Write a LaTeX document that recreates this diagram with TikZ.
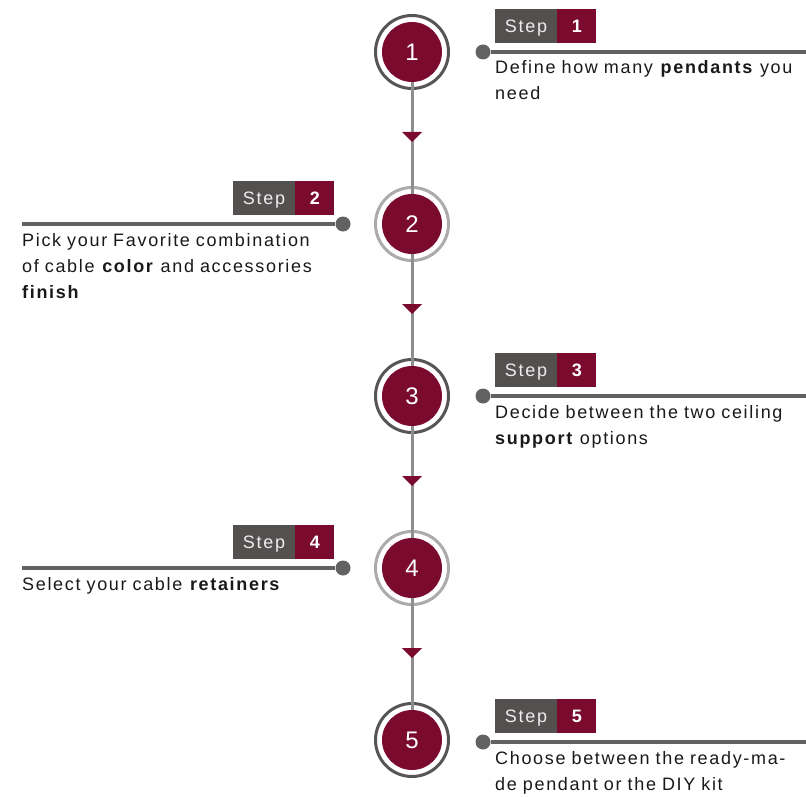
\documentclass[tikz,border=0pt]{standalone}
\usepackage{fontspec}
\setmainfont{Liberation Sans}[LetterSpace=9.3]
\usetikzlibrary{decorations.markings}
\definecolor{maroon}{HTML}{7A0A2E}
\definecolor{boxgray}{HTML}{545050}
\definecolor{linegray}{HTML}{626262}
\definecolor{ringdark}{HTML}{555555}
\definecolor{ringlight}{HTML}{ABABAB}
\definecolor{vgray}{HTML}{8E8E8E}
\tikzset{
  ring/.style={circle, draw=#1, line width=3pt, minimum size=73pt, inner sep=0pt},
  disc/.style={circle, fill=maroon, minimum size=60pt, inner sep=0pt, text=white, font=\fontsize{24}{24}\selectfont},
  vline/.style={draw=vgray, line width=3pt, postaction={decorate}, decoration={markings, mark=at position 0.5 with {\fill[maroon] (4pt,0pt) -- (-6pt,10pt) -- (-6pt,-10pt) -- cycle;}}},
  stepword/.style={rectangle, fill=boxgray, minimum width=62pt, minimum height=34pt, inner sep=0pt, text height=12.9pt, text depth=0pt, text=white!93!black, font=\fontsize{18}{18}\selectfont},
  stepnum/.style={rectangle, fill=maroon, minimum width=39pt, minimum height=34pt, inner sep=0pt, text height=12.9pt, text depth=0pt, text=white, font=\fontsize{18}{18}\selectfont\bfseries},
  dot/.style={circle, fill=linegray, minimum size=15pt, inner sep=0pt},
  stepline/.style={draw=linegray, line width=4pt},
  desc/.style={text width=330pt, align=left, inner sep=0pt, font=\fontsize{18}{26}\selectfont, text=black!90}
}
\begin{document}
\begin{tikzpicture}[x=1pt, y=-1pt]
\useasboundingbox (0,0) rectangle (806,797);
% rings
\node[ring=ringdark] (c1) at (412,52) {};
\node[ring=ringlight] (c2) at (412,224) {};
\node[ring=ringdark] (c3) at (412,396) {};
\node[ring=ringlight] (c4) at (412,568) {};
\node[ring=ringdark] (c5) at (412,740) {};
% vertical connectors
\draw[vline] (c1.center) -- (c2.center);
\draw[vline] (c2.center) -- (c3.center);
\draw[vline] (c3.center) -- (c4.center);
\draw[vline] (c4.center) -- (c5.center);
% discs
\node[disc] (d1) at (c1) {1};
\node[disc] (d2) at (c2) {2};
\node[disc] (d3) at (c3) {3};
\node[disc] (d4) at (c4) {4};
\node[disc] (d5) at (c5) {5};
% step 1 (right)
\node[stepword] (s1) at (526,26) {Step};
\node[stepnum, anchor=west] (n1) at (s1.east) {1};
\node[dot] (p1) at (483,52) {};
\coordinate (e1) at (806,52);
\draw[stepline] (p1) -- (e1);
\node[desc, anchor=base west] (t1) at (495,74) {Define how many \textbf{pendants} you\\need};
% step 2 (left)
\node[stepword] (s2) at (264,198) {Step};
\node[stepnum, anchor=west] (n2) at (s2.east) {2};
\node[dot] (p2) at (343,224) {};
\coordinate (e2) at (22,224);
\draw[stepline] (p2) -- (e2);
\node[desc, anchor=base west] (t2) at (22,246) {Pick your Favorite combination\\of cable \textbf{color} and accessories\\\textbf{finish}};
% step 3 (right)
\node[stepword] (s3) at (526,370) {Step};
\node[stepnum, anchor=west] (n3) at (s3.east) {3};
\node[dot] (p3) at (483,396) {};
\coordinate (e3) at (806,396);
\draw[stepline] (p3) -- (e3);
\node[desc, anchor=base west] (t3) at (495,418) {Decide between the two ceiling\\\textbf{support} options};
% step 4 (left)
\node[stepword] (s4) at (264,542) {Step};
\node[stepnum, anchor=west] (n4) at (s4.east) {4};
\node[dot] (p4) at (343,568) {};
\coordinate (e4) at (22,568);
\draw[stepline] (p4) -- (e4);
\node[desc, anchor=base west] (t4) at (22,590) {Select your cable \textbf{retainers}};
% step 5 (right)
\node[stepword] (s5) at (526,716) {Step};
\node[stepnum, anchor=west] (n5) at (s5.east) {5};
\node[dot] (p5) at (483,742) {};
\coordinate (e5) at (806,742);
\draw[stepline] (p5) -- (e5);
\node[desc, anchor=base west] (t5) at (495,764) {Choose between the ready-ma-\\de pendant or the DIY kit};
\end{tikzpicture}
\end{document}
